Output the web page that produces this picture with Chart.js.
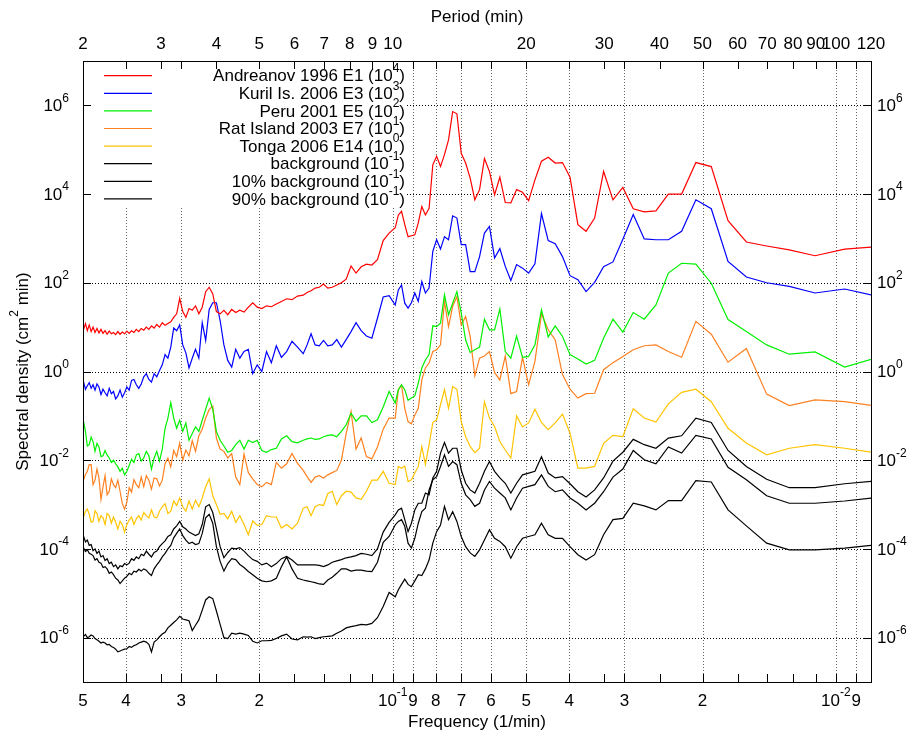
<!DOCTYPE html>
<html>
<head>
<meta charset="utf-8">
<script src="https://cdn.jsdelivr.net/npm/chart.js@4.4.1/dist/chart.umd.min.js"></script>
<style>
  html, body { margin: 0; padding: 0; background: #fff; }
</style>
</head>
<body>
<canvas id="chart" width="912" height="736"></canvas>
<script>
/* ---------- Data ---------- */
// FFT bin numbers; frequency = bin / 628 (1/min)
const bins = [
  5, 6, 7, 8, 9, 10, 11, 12, 13, 14, 15, 16, 17, 18, 19, 20, 21, 22, 23, 24,
  25, 26, 27, 28, 29, 30, 31, 32, 33, 34, 35, 36, 37, 38, 39, 40, 41, 42, 43, 44,
  45, 46, 47, 48, 49, 50, 51, 52, 53, 54, 55, 56, 57, 58, 59, 60, 61, 62,
  64, 66, 68, 70, 72, 74, 76, 78, 80, 82, 84, 86, 88, 90, 92, 94, 96, 98, 100,
  103, 106, 109, 112, 115, 118, 121, 124, 127, 130, 133, 136, 139, 142, 145, 148, 151, 154, 157, 160,
  163, 166, 169, 172, 175, 178, 181, 184, 187, 190, 193, 196, 199, 202, 205, 208, 211, 214, 217, 220,
  223, 226, 229, 232, 235, 238, 241, 244, 247, 250, 253, 256, 259, 262, 265, 268, 271, 274, 277, 280,
  283, 286, 289, 292, 295, 298, 301, 304, 307, 310, 313, 316
];
const binsPerMin = 628;

// log10 of spectral density (cm^2 min), already multiplied by the legend factor
const andreanov1996 = [
  2.82, 2.76, 2.61, 2.74, 2.83, 2.92, 3.40, 4.62, 4.71, 4.00,
  4.00, 3.62, 3.60, 3.67, 4.15, 3.87, 4.51, 3.46, 3.16, 3.31,
  4.38, 4.71, 4.70, 4.83, 4.74, 4.32, 3.85, 4.04, 4.10, 3.80,
  3.81, 4.38, 3.98, 4.51, 4.80, 4.10, 3.87, 4.36, 4.70, 4.92,
  5.81, 5.86, 5.22, 4.89, 4.62, 4.85, 4.66, 3.68, 3.53, 3.72,
  3.35, 3.08, 3.06, 3.04, 3.31, 3.61, 3.53, 3.24,
  3.12, 2.95, 2.52, 2.40, 2.42, 2.36, 2.22, 2.38, 2.08, 2.00, 1.95, 1.90, 1.88, 1.97, 1.90, 1.88, 1.82, 1.78, 1.72,
  1.70, 1.62, 1.64, 1.58, 1.52, 1.46, 1.48, 1.42, 1.45, 1.55, 1.45, 1.34, 1.38, 1.33, 1.40, 1.28, 1.38, 1.30, 1.35, 1.75,
  1.90, 1.80, 1.45, 1.30, 1.48, 1.38, 1.42, 1.22, 1.35, 1.65, 1.30, 1.22, 1.12, 1.08, 1.04, 1.10, 1.00, 1.06, 0.98, 1.03,
  0.95, 1.00, 0.93, 0.97, 0.90, 0.95, 0.88, 0.92, 0.86, 0.91, 0.85, 0.89, 0.84, 0.90, 0.83, 0.88, 0.85, 0.91, 0.84, 0.92,
  0.86, 0.95, 0.87, 0.97, 0.88, 1.00, 0.90, 1.05, 0.92, 1.08, 0.95, 1.00
];
const kuril2006 = [
  1.68, 1.86, 1.77, 1.92, 2.00, 2.13, 2.48, 3.67, 3.87, 3.16,
  2.97, 2.97, 2.99, 3.54, 2.98, 2.47, 2.36, 2.01, 1.80, 2.07,
  2.16, 2.59, 2.88, 2.95, 3.56, 2.43, 2.22, 2.33, 2.41, 2.05,
  2.37, 2.77, 2.56, 3.27, 3.12, 2.59, 2.25, 2.25, 2.86, 2.86,
  3.46, 3.51, 2.97, 3.04, 2.76, 2.97, 2.71, 1.88, 1.77, 2.03,
  1.58, 1.77, 1.55, 1.43, 1.54, 1.95, 1.84, 1.50,
  1.71, 1.68, 1.20, 0.75, 0.80, 0.92, 1.10, 0.90, 0.72, 0.55, 0.72, 0.60, 0.58, 0.70, 0.58, 0.60, 0.85, 0.60, 0.40,
  0.55, 0.68, 0.45, 0.32, 0.58, 0.20, 0.45, 0.00, 0.15, -0.05, 0.50, 0.45, 0.30, 0.50, 0.10, 0.25, 0.60, 1.15, 1.55, 1.55,
  1.40, 0.70, 1.10, 0.30, 0.50, 0.30, 0.08, 0.42, 0.60, 1.05, 0.92, 0.98, 0.55, 0.30, 0.38, 0.15, 0.02, -0.12, -0.05, -0.24,
  -0.18, -0.05, -0.12, -0.28, -0.38, -0.30, -0.18, -0.20, -0.42, -0.35, -0.48, -0.58, -0.42, -0.55, -0.62, -0.45, -0.50, -0.38, -0.55, -0.48,
  -0.40, -0.52, -0.35, -0.28, -0.42, -0.30, -0.38, -0.25, -0.32, -0.40, -0.24, -0.30
];
const peru2001 = [
  0.33, 0.10, 0.44, 0.39, 0.60, 0.90, 1.17, 1.99, 2.42, 2.44,
  2.22, 1.50, 1.18, 1.33, 0.89, 1.18, 0.75, 0.25, 0.17, 0.28,
  0.38, 0.79, 1.03, 0.78, 1.39, 0.60, 0.34, 0.32, 0.80, 0.30,
  0.45, 1.41, 0.94, 0.94, 1.18, 0.55, 0.49, 0.43, 0.71, 1.32,
  1.80, 1.54, 1.28, 1.73, 1.09, 1.01, 1.03, 0.38, 0.26, 0.08,
  -0.26, -0.55, -0.60, -0.65, -0.41, -0.30, -0.41, -0.71,
  -0.45, -0.80, -1.09, -1.15, -1.00, -1.00, -1.12, -0.94, -1.20, -1.35, -1.47, -1.43, -1.44, -1.47, -1.52, -1.53, -1.50, -1.52, -1.55,
  -1.61, -1.58, -1.45, -1.52, -1.73, -1.76, -1.82, -1.78, -1.55, -1.60, -1.55, -1.75, -1.55, -1.65, -1.78, -1.82, -1.68, -1.55, -1.35, -0.85,
  -0.60, -0.85, -1.10, -1.35, -1.25, -1.40, -1.55, -1.16, -1.35, -1.10, -1.28, -1.05, -0.70, -1.05, -1.28, -1.75, -2.02, -1.80, -1.95, -2.20,
  -1.90, -1.80, -1.95, -2.02, -1.85, -1.88, -2.05, -1.98, -2.12, -2.25, -2.33, -2.18, -2.25, -2.15, -2.08, -2.00, -2.05, -1.95, -1.88, -1.78,
  -1.90, -1.92, -1.70, -1.62, -1.80, -1.58, -1.48, -1.65, -1.68, -1.35, -1.13, -1.20
];
const ratIsland2003 = [
  -0.79, -0.68, -0.64, -0.77, -0.51, 0.52, 0.21, 0.84, 1.13, 0.32,
  0.45, 0.60, 0.58, 0.49, 0.34, 0.20, 0.04, -0.49, -0.50, -0.60,
  -0.40, -0.07, 0.71, 0.94, 1.30, 0.23, -0.30, 0.32, -0.45, -0.50,
  0.35, -0.19, -0.02, 0.45, 0.35, 0.30, -0.10, 0.79, 1.24, 1.05,
  1.69, 1.47, 1.01, 1.58, 0.60, 0.49, 0.45, 0.19, 0.08, -0.19,
  -0.83, -0.98, -1.18, -1.13, -0.83, -0.30, -0.41, -1.05,
  -1.05, -1.30, -1.70, -1.97, -1.92, -1.50, -1.75, -0.90, -1.40, -2.00, -2.23, -2.28, -2.33, -2.40, -2.35, -2.38, -2.50, -2.37, -2.23,
  -2.07, -1.85, -2.08, -2.18, -2.05, -2.55, -2.50, -2.60, -2.55, -2.42, -2.28, -1.86, -2.55, -2.38, -1.85, -1.95, -1.80, -1.75, -1.50, -0.78,
  -0.86, -1.05, -1.30, -1.45, -1.80, -1.56, -1.90, -1.77, -2.00, -1.62, -1.92, -1.78, -2.15, -1.95, -2.08, -2.45, -2.58, -2.42, -2.40, -2.65,
  -2.45, -2.35, -2.60, -2.38, -2.62, -2.55, -2.44, -2.72, -2.62, -2.95, -3.10, -2.98, -2.70, -2.45, -2.62, -2.55, -2.42, -2.70, -2.78, -2.35,
  -2.60, -2.88, -2.40, -2.20, -2.45, -2.55, -2.10, -2.10, -2.25, -2.32, -2.44, -2.40
];
const tonga2006 = [
  -1.85, -1.73, -1.65, -1.73, -1.88, -1.61, -1.28, -0.68, -0.40, -0.47,
  -0.73, -1.14, -1.05, -0.84, -1.47, -1.44, -1.62, -2.14, -2.18, -2.18,
  -1.39, -0.96, -1.16, -1.31, -1.15, -0.85, -1.16, -1.25, -1.00, -1.95,
  -1.77, -1.58, -1.24, -1.05, -0.68, -1.73, -1.83, -1.69, -1.47, -1.13,
  -0.40, -0.34, -0.83, -0.41, -0.75, -1.09, -1.15, -1.65, -2.10, -1.69,
  -2.14, -2.29, -2.44, -2.48, -2.13, -2.18, -2.14, -2.55,
  -2.52, -2.25, -2.45, -2.45, -2.70, -2.88, -2.85, -2.72, -2.70, -2.80, -3.00, -2.70, -2.75, -3.02, -3.00, -3.05, -3.25, -3.05, -3.08,
  -3.42, -3.55, -3.45, -3.53, -3.28, -3.28, -3.25, -3.45, -3.47, -3.37, -3.68, -3.45, -3.25, -3.40, -3.15, -3.32, -3.20, -3.22, -3.00, -2.80,
  -2.42, -2.60, -2.85, -3.05, -2.90, -3.10, -2.92, -3.15, -3.05, -2.85, -3.02, -2.92, -3.15, -3.20, -2.98, -3.05, -3.15, -3.30, -3.28, -3.12,
  -3.30, -3.25, -3.18, -3.35, -3.25, -3.32, -3.45, -3.28, -3.35, -3.45, -3.62, -3.45, -3.38, -3.55, -3.40, -3.28, -3.42, -3.25, -3.20, -3.45,
  -3.30, -3.25, -3.38, -3.20, -3.14, -3.38, -3.40, -3.22, -3.10, -3.15, -3.27, -3.20
];
const background = [
  -2.83, -2.92, -2.97, -2.97, -2.80, -2.44, -2.16, -1.52, -1.44, -1.84,
  -1.70, -2.08, -1.99, -1.78, -2.20, -2.38, -2.71, -2.97, -3.12, -2.97,
  -2.85, -2.67, -2.71, -2.59, -2.33, -2.55, -2.59, -2.63, -2.85, -3.12,
  -2.85, -2.74, -2.63, -2.48, -2.67, -2.97, -3.04, -2.89, -2.78, -2.52,
  -2.10, -2.03, -2.14, -1.88, -2.14, -2.37, -2.44, -2.67, -3.08, -3.16,
  -3.42, -3.76, -3.98, -3.87, -3.49, -3.34, -3.38, -3.46,
  -3.72, -3.85, -4.30, -4.51, -4.50, -4.48, -4.48, -4.50, -4.45, -4.45, -4.55, -4.64, -4.70, -4.80, -4.79, -4.76, -4.74, -4.72, -4.70,
  -4.66, -4.45, -4.18, -4.40, -4.66, -4.72, -4.74, -4.72, -4.66, -4.58, -4.51, -4.42, -4.35, -4.24, -4.22, -4.33, -4.50, -4.28, -3.95, -3.42,
  -3.22, -3.30, -3.65, -3.88, -3.90, -3.85, -3.88, -3.80, -3.70, -3.55, -3.65, -3.75, -3.92, -4.00, -4.10, -4.18, -4.28, -4.36, -4.45, -4.60,
  -4.55, -4.48, -4.45, -4.50, -4.46, -4.52, -4.50, -4.58, -4.55, -4.62, -4.66, -4.72, -4.78, -4.70, -4.66, -4.58, -4.52, -4.55, -4.45, -4.40,
  -4.42, -4.32, -4.30, -4.22, -4.25, -4.15, -4.12, -4.10, -4.02, -4.06, -3.98, -3.96
];
const background10 = [
  -3.90, -3.98, -4.02, -4.02, -3.87, -3.48, -3.12, -2.49, -2.46, -2.91,
  -2.91, -3.12, -3.03, -2.97, -3.31, -3.34, -3.68, -4.13, -4.25, -4.13,
  -3.95, -3.76, -3.76, -3.68, -3.42, -3.68, -3.72, -3.76, -3.95, -4.21,
  -3.95, -3.83, -3.76, -3.57, -3.80, -4.02, -4.17, -4.09, -3.95, -3.72,
  -3.38, -3.16, -3.34, -3.04, -3.46, -3.61, -3.87, -4.25, -4.45, -4.60,
  -4.58, -4.72, -4.85, -4.80, -4.68, -4.80, -4.92, -5.08,
  -4.98, -5.30, -5.55, -5.68, -5.71, -5.70, -5.73, -5.75, -5.78, -5.85, -5.90, -5.96, -5.97, -5.98, -6.00, -6.02, -5.98, -5.99, -5.98,
  -6.05, -6.03, -5.92, -5.96, -6.02, -6.06, -6.07, -6.07, -6.12, -6.08, -5.95, -5.92, -5.90, -5.92, -5.90, -6.02, -6.00, -5.70, -5.40, -5.12,
  -5.08, -5.15, -5.38, -5.60, -5.72, -5.84, -5.62, -5.60, -5.58, -5.52, -5.60, -5.66, -5.72, -5.78, -5.88, -5.92, -5.98, -6.05, -6.10, -6.32,
  -6.15, -6.10, -6.08, -6.10, -6.12, -6.16, -6.18, -6.22, -6.20, -6.25, -6.26, -6.28, -6.30, -6.32, -6.26, -6.22, -6.20, -6.15, -6.16, -6.12,
  -6.10, -6.12, -6.08, -6.05, -6.02, -5.96, -5.94, -5.98, -6.00, -5.93, -5.97, -5.95
];
const background90 = [
  -2.46, -2.53, -2.62, -2.62, -2.43, -2.14, -1.78, -1.15, -1.05, -1.45,
  -1.50, -1.73, -1.65, -1.53, -1.82, -2.02, -2.40, -2.67, -2.83, -2.71,
  -2.53, -2.37, -2.40, -2.29, -1.92, -2.25, -2.29, -2.33, -2.52, -2.74,
  -2.52, -2.40, -2.25, -2.03, -2.25, -2.52, -2.74, -2.67, -2.52, -2.22,
  -1.73, -1.73, -1.84, -1.60, -1.84, -2.25, -2.40, -2.78, -2.74, -2.97,
  -2.97, -3.12, -3.42, -3.61, -3.34, -3.08, -3.12, -3.23,
  -3.40, -3.62, -4.00, -4.15, -4.12, -4.10, -4.15, -4.18, -4.20, -4.24, -4.27, -4.30, -4.36, -4.40, -4.37, -4.36, -4.36, -4.36, -4.36,
  -4.36, -4.25, -4.17, -4.22, -4.33, -4.40, -4.32, -4.36, -4.28, -4.24, -4.15, -4.05, -3.97, -4.00, -3.98, -4.08, -4.20, -3.95, -3.55, -3.18,
  -3.00, -3.05, -3.45, -3.66, -3.70, -3.66, -3.62, -3.55, -3.50, -3.38, -3.48, -3.55, -3.68, -3.72, -3.82, -3.88, -3.95, -4.05, -4.08, -4.18,
  -4.12, -4.05, -4.15, -4.12, -4.22, -4.18, -4.26, -4.22, -4.32, -4.36, -4.33, -4.40, -4.38, -4.45, -4.36, -4.40, -4.30, -4.33, -4.22, -4.26,
  -4.15, -4.18, -4.05, -4.10, -4.00, -4.04, -3.90, -3.92, -3.80, -3.84, -3.72, -3.75
];

const seriesNames = [
  "Andreanov 1996 E1", "Kuril Is. 2006 E3", "Peru 2001 E5", "Rat Island 2003 E7",
  "Tonga 2006 E14", "background", "10% background", "90% background"
];
const seriesFactor = ["4", "3", "2", "1", "0", "-1", "-1", "-1"];
const seriesColors = ["#ff0000", "#0000ff", "#00f000", "#ff8020", "#ffc400", "#000000", "#000000", "#000000"];
const seriesData = [andreanov1996, kuril2006, peru2001, ratIsland2003, tonga2006, background, background10, background90];

/* ---------- Axis ticks ---------- */
const freqTicks = [0.5, 0.4, 0.3, 0.2, 0.1, 0.09, 0.08, 0.07, 0.06, 0.05, 0.04, 0.03, 0.02, 0.01, 0.009];
const freqTickText = ["5", "4", "3", "2", "10^{-1}", "9", "8", "7", "6", "5", "4", "3", "2", "10^{-2}", "9"];
const periodTicks = [2, 3, 4, 5, 6, 7, 8, 9, 10, 20, 30, 40, 50, 60, 70, 80, 90, 100, 120];
const densityTicks = [1e-6, 1e-4, 1e-2, 1, 1e2, 1e4, 1e6];
const densityTickText = ["10^{-6}", "10^{-4}", "10^{-2}", "10^{0}", "10^{2}", "10^{4}", "10^{6}"];

/* ---------- Text helpers (gnuplot-like superscripts) ---------- */
const FAMILY = '"Liberation Sans", Arial, Helvetica, sans-serif';
const BASE_FONT = "17px " + FAMILY;
const SUP_FONT = "12px " + FAMILY;

function richParts(str) {
  const parts = [];
  const re = /\^\{([^}]*)\}/g;
  let last = 0, m;
  while ((m = re.exec(str))) {
    if (m.index > last) parts.push({ t: str.slice(last, m.index), sup: false });
    parts.push({ t: m[1], sup: true });
    last = re.lastIndex;
  }
  if (last < str.length) parts.push({ t: str.slice(last), sup: false });
  return parts;
}

function drawRich(ctx, str, x, y, align) {
  const parts = richParts(str);
  let w = 0;
  for (const p of parts) {
    ctx.font = p.sup ? SUP_FONT : BASE_FONT;
    p.w = ctx.measureText(p.t).width;
    w += p.w;
  }
  let cx = align === "right" ? x - w : align === "center" ? x - w / 2 : x;
  ctx.textAlign = "left";
  ctx.textBaseline = "middle";
  for (const p of parts) {
    ctx.font = p.sup ? SUP_FONT : BASE_FONT;
    ctx.fillText(p.t, cx, p.sup ? y - 7 : y + 1);
    cx += p.w;
  }
}

/* ---------- Frame, grid, ticks, key ---------- */
const gnuplotLook = {
  id: "gnuplotLook",
  beforeDatasetsDraw(chart) {
    const { ctx, chartArea: a, scales } = chart;
    ctx.save();
    ctx.lineWidth = 1;
    ctx.setLineDash([1, 2]);
    ctx.strokeStyle = "#000";
    for (const v of densityTicks) {
      const y = Math.round(scales.y.getPixelForValue(v)) + 0.5;
      ctx.beginPath(); ctx.moveTo(a.left, y); ctx.lineTo(a.right, y); ctx.stroke();
    }
    ctx.strokeStyle = "#666";
    for (const f of freqTicks.slice(1)) {
      const x = Math.round(scales.x.getPixelForValue(f)) + 0.5;
      ctx.beginPath(); ctx.moveTo(x, a.top); ctx.lineTo(x, a.bottom); ctx.stroke();
    }
    ctx.restore();
  },
  afterDatasetsDraw(chart) {
    const { ctx, chartArea: a, scales } = chart;
    ctx.save();

    // opaque key
    ctx.fillStyle = "#fff";
    ctx.fillRect(a.left, a.top, 406 - a.left, 208 - a.top);
    for (let i = 0; i < seriesNames.length; i++) {
      const y = 75.7 + i * 17.6;
      ctx.strokeStyle = seriesColors[i];
      ctx.lineWidth = 1.2;
      ctx.beginPath(); ctx.moveTo(104, y); ctx.lineTo(152, y); ctx.stroke();
      ctx.fillStyle = "#000";
      drawRich(ctx, seriesNames[i] + " (10^{" + seriesFactor[i] + "})", 405, y, "right");
    }

    // border
    ctx.strokeStyle = "#000";
    ctx.lineWidth = 1;
    ctx.strokeRect(Math.round(a.left) + 0.5, Math.round(a.top) + 0.5,
      Math.round(a.right - a.left), Math.round(a.bottom - a.top));

    // inward tick marks
    const tick = 8;
    const xs = [];
    for (const f of freqTicks.slice(1)) xs.push(scales.x.getPixelForValue(f));
    for (const p of periodTicks.slice(1, -1)) xs.push(scales.x2.getPixelForValue(p));
    ctx.beginPath();
    for (const x0 of xs) {
      const x = Math.round(x0) + 0.5;
      ctx.moveTo(x, a.bottom); ctx.lineTo(x, a.bottom - tick);
      ctx.moveTo(x, a.top); ctx.lineTo(x, a.top + tick);
    }
    for (const v of densityTicks) {
      const y = Math.round(scales.y.getPixelForValue(v)) + 0.5;
      ctx.moveTo(a.left, y); ctx.lineTo(a.left + tick, y);
      ctx.moveTo(a.right, y); ctx.lineTo(a.right - tick, y);
    }
    ctx.stroke();

    // tick labels
    ctx.fillStyle = "#000";
    freqTicks.forEach((f, i) => drawRich(ctx, freqTickText[i], scales.x.getPixelForValue(f), 700, "center"));
    periodTicks.forEach(p => drawRich(ctx, String(p), scales.x2.getPixelForValue(p), 43, "center"));
    densityTicks.forEach((v, i) => {
      const y = scales.y.getPixelForValue(v);
      drawRich(ctx, densityTickText[i], 69, y, "right");
      drawRich(ctx, densityTickText[i], 877, y, "left");
    });

    // axis titles
    const cx = (a.left + a.right) / 2;
    drawRich(ctx, "Period (min)", cx, 16, "center");
    drawRich(ctx, "Frequency (1/min)", cx, 721, "center");
    ctx.translate(22, (a.top + a.bottom) / 2);
    ctx.rotate(-Math.PI / 2);
    drawRich(ctx, "Spectral density (cm^{2} min)", 0, 0, "center");
    ctx.restore();
  }
};

/* ---------- Chart ---------- */
const freq = bins.map(k => k / binsPerMin);

const datasets = seriesData.map((vals, i) => ({
  label: seriesNames[i],
  data: vals.map((v, j) => ({ x: freq[j], y: Math.pow(10, v) })),
  borderColor: seriesColors[i],
  borderWidth: 1.2,
  pointRadius: 0,
  tension: 0,
  fill: false
}));

const hiddenAxis = (extra) => Object.assign({
  type: "logarithmic",
  ticks: { display: false },
  grid: { display: false, drawTicks: false },
  border: { display: false }
}, extra);

new Chart(document.getElementById("chart").getContext("2d"), {
  type: "line",
  data: { datasets },
  options: {
    responsive: false,
    animation: false,
    devicePixelRatio: 1,
    layout: { padding: 0 },
    plugins: { legend: { display: false }, tooltip: { enabled: false } },
    scales: {
      x: hiddenAxis({ position: "bottom", reverse: true, min: 1 / 120, max: 0.5, afterFit: s => { s.height = 54; } }),
      x2: hiddenAxis({ position: "top", min: 2, max: 120, afterFit: s => { s.height = 61; } }),
      y: hiddenAxis({ position: "left", min: 1e-7, max: 1e7, afterFit: s => { s.width = 83; } }),
      y2: hiddenAxis({ position: "right", min: 1e-7, max: 1e7, afterFit: s => { s.width = 41; } })
    }
  },
  plugins: [gnuplotLook]
});
</script>
</body>
</html>
